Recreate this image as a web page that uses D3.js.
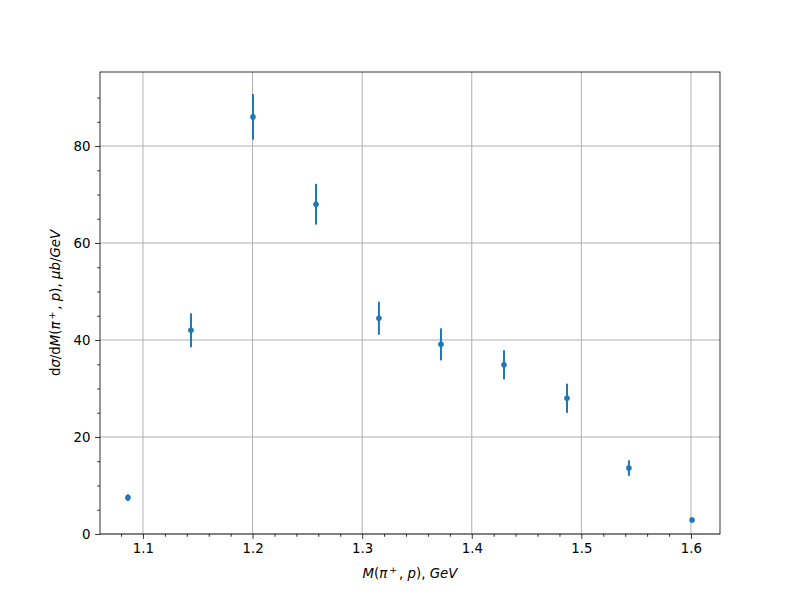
<!DOCTYPE html>
<html><head><meta charset="utf-8">
<script src="https://cdn.jsdelivr.net/npm/d3@7"></script>
<style>body{margin:0;background:#fff}svg{display:block}text{font-family:"DejaVu Sans",sans-serif}</style>
</head><body>
<script>
const massValues = [1.0863, 1.1438, 1.2004, 1.2579, 1.3153, 1.3719, 1.4294, 1.4869, 1.5434, 1.6010];
const crossSection = [7.5, 42.0, 86.0, 68.0, 44.5, 39.1, 34.9, 28.0, 13.6, 2.9];
const errors = [0.7, 3.5, 4.7, 4.2, 3.4, 3.3, 3.0, 3.0, 1.6, 0.5];
const xTicks = [1.1, 1.2, 1.3, 1.4, 1.5, 1.6];
const yTicks = [0, 20, 40, 60, 80];

const W = 800, H = 600;
const L = 100, R = 720, T = 72, B = 534;
const svg = d3.select("body").append("svg").attr("width", W).attr("height", H);
const x = d3.scaleLinear().domain([1.0608, 1.6265]).range([L, R]);
const y = d3.scaleLinear().domain([0, 95.26]).range([B, T]);

// grid
const g = svg.append("g");
g.selectAll(".gx").data(xTicks).enter().append("line")
  .attr("x1", d => x(d)).attr("x2", d => x(d)).attr("y1", T).attr("y2", B)
  .attr("stroke", "#b0b0b0").attr("stroke-width", 1);
g.selectAll(".gy").data(yTicks).enter().append("line")
  .attr("y1", d => y(d)).attr("y2", d => y(d)).attr("x1", L).attr("x2", R)
  .attr("stroke", "#b0b0b0").attr("stroke-width", 1);

// error bars
const cl = "#1f77b4";
svg.append("g").selectAll("line").data(massValues).enter().append("line")
  .attr("x1", (d) => x(d)).attr("x2", d => x(d))
  .attr("y1", (d, i) => y(crossSection[i] - errors[i]))
  .attr("y2", (d, i) => y(crossSection[i] + errors[i]))
  .attr("stroke", cl).attr("stroke-width", 2);
svg.append("g").selectAll("circle").data(massValues).enter().append("circle")
  .attr("cx", d => x(d)).attr("cy", (d, i) => y(crossSection[i]))
  .attr("r", 2.8).attr("fill", cl);

// axes
const xAxis = d3.axisBottom(x).tickValues(xTicks).tickFormat(d3.format(".1f")).tickSize(4.9).tickPadding(4.7);
const yAxis = d3.axisLeft(y).tickValues(yTicks).tickFormat(d3.format("d")).tickSize(4.9).tickPadding(4.7);
const xMinor = d3.axisBottom(x).tickValues(d3.range(1.08, 1.62, 0.02).filter(v => Math.abs(v*10 - Math.round(v*10)) > 0.01)).tickFormat("").tickSize(2.8);
const yMinor = d3.axisLeft(y).tickValues(d3.range(5, 95, 5).filter(v => v % 20 !== 0)).tickFormat("").tickSize(2.8);

function styleAxis(sel) {
  sel.select(".domain").remove();
  sel.selectAll("line").attr("stroke", "#000").attr("stroke-width", 0.8);
  sel.selectAll("text").attr("font-size", 13.33).attr("fill", "#000").attr("font-family", "DejaVu Sans");
}
svg.append("g").attr("transform", `translate(0,${B})`).call(xAxis).call(styleAxis);
svg.append("g").attr("transform", `translate(0,${B})`).call(xMinor).call(styleAxis);
svg.append("g").attr("transform", `translate(${L},0)`).call(yAxis).call(styleAxis);
svg.append("g").attr("transform", `translate(${L},0)`).call(yMinor).call(styleAxis);

// frame
svg.append("rect").attr("x", L).attr("y", T).attr("width", R - L).attr("height", B - T)
  .attr("fill", "none").attr("stroke", "#000").attr("stroke-width", 0.8);

// labels
const xl = svg.append("text").attr("x", (L + R) / 2).attr("y", 578).attr("text-anchor", "middle").attr("font-size", 13.33);
xl.append("tspan").attr("font-style", "italic").text("M");
xl.append("tspan").text("(");
xl.append("tspan").attr("font-style", "italic").text("π");
xl.append("tspan").attr("font-size", 9.5).attr("dy", -5).text("\u2009+\u2009");
xl.append("tspan").attr("dy", 5).text(", ");
xl.append("tspan").attr("font-style", "italic").text("p");
xl.append("tspan").text("), ");
xl.append("tspan").attr("font-style", "italic").text("GeV");

const yl = svg.append("text").attr("transform", `translate(60,${(T + B) / 2}) rotate(-90)`).attr("text-anchor", "middle").attr("font-size", 13.33);
yl.append("tspan").text("d");
yl.append("tspan").attr("font-style", "italic").text("σ");
yl.append("tspan").text("/d");
yl.append("tspan").attr("font-style", "italic").text("M");
yl.append("tspan").text("(");
yl.append("tspan").attr("font-style", "italic").text("π");
yl.append("tspan").attr("font-size", 9.5).attr("dy", -5).text("\u2009+\u2009");
yl.append("tspan").attr("dy", 5).text(", ");
yl.append("tspan").attr("font-style", "italic").text("p");
yl.append("tspan").text("), ");
yl.append("tspan").attr("font-style", "italic").text("μb");
yl.append("tspan").text("/");
yl.append("tspan").attr("font-style", "italic").text("GeV");
</script>
</body></html>
